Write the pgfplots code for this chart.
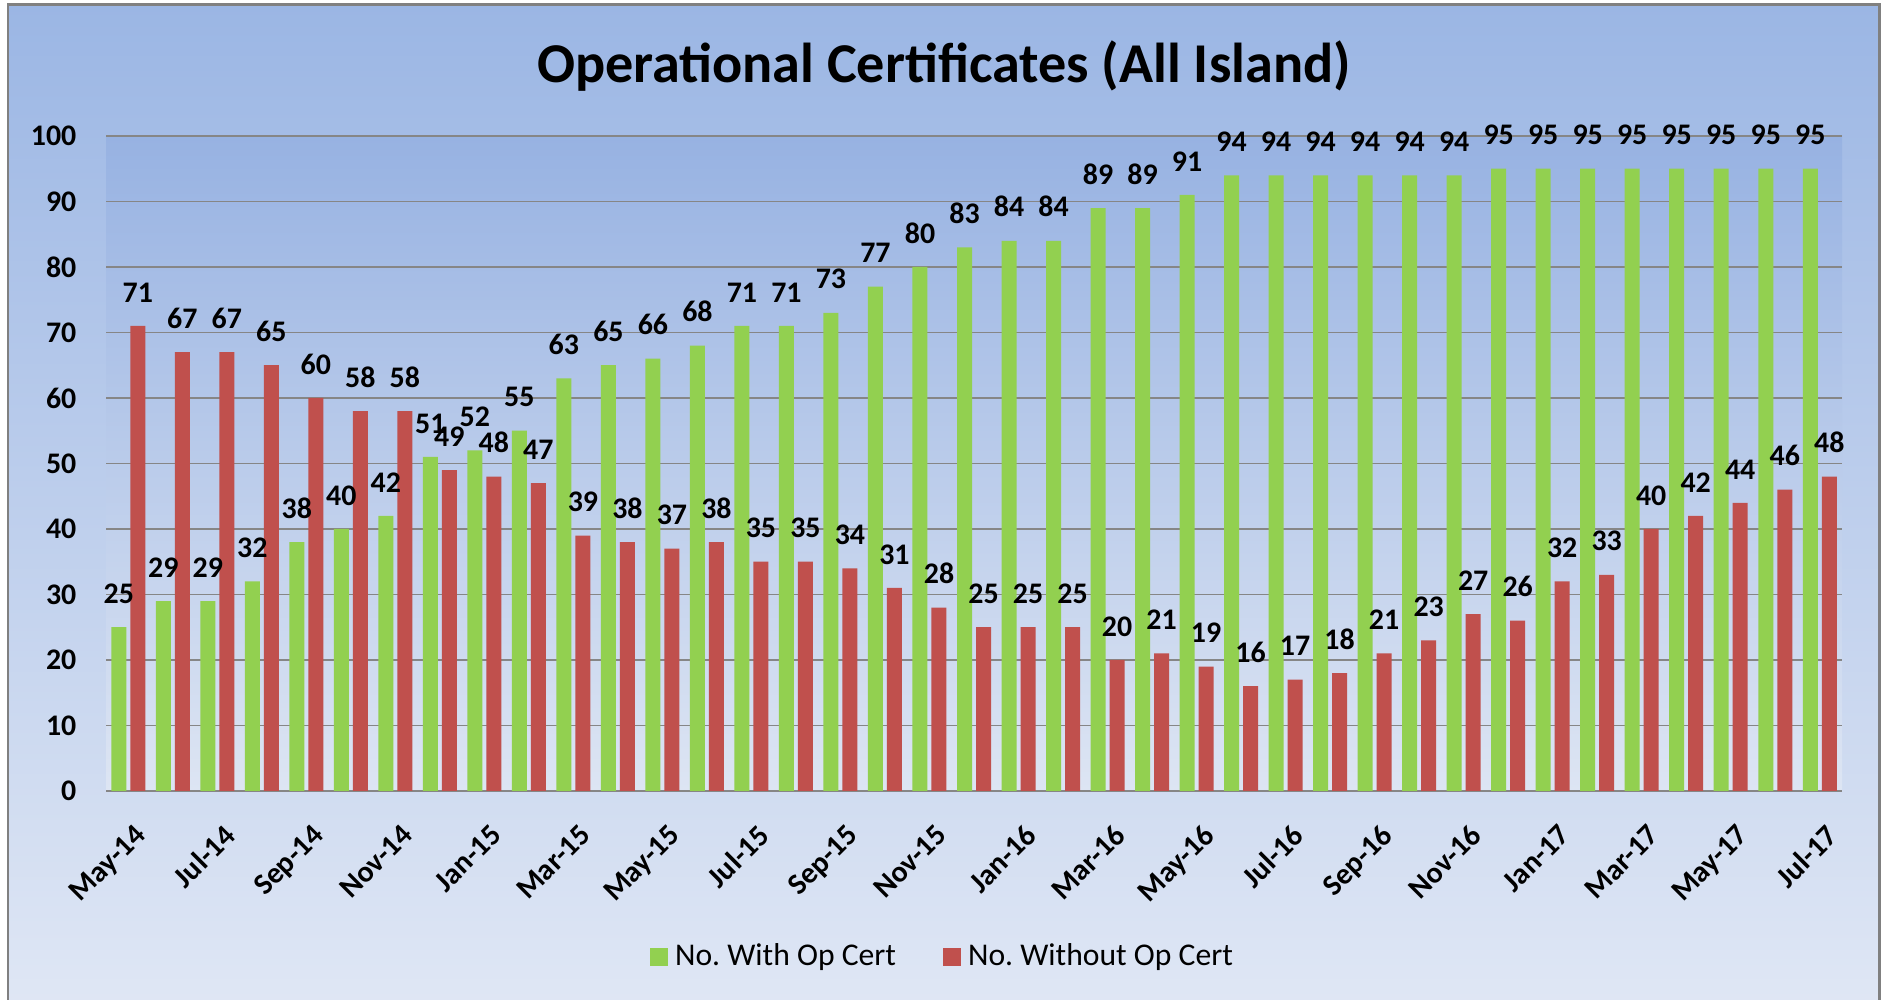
\documentclass[border=0pt]{standalone}
\usepackage{fontspec}
\setmainfont{Carlito}
\usepackage{pgfplots}
\pgfplotsset{compat=1.18}
\frenchspacing
\definecolor{cgreen}{RGB}{146,208,80}
\definecolor{cred}{RGB}{192,80,77}
\definecolor{bgtop}{RGB}{155,182,228}
\definecolor{bgbot}{RGB}{225,232,245}
\definecolor{patop}{RGB}{151,178,226}
\definecolor{pabot}{RGB}{221,229,243}
\definecolor{gridc}{RGB}{134,134,134}
\begin{document}
\begin{tikzpicture}
\useasboundingbox (0,0) rectangle (18.82,10);
\fill[white] (0,0) rectangle (18.82,10);
\shade[top color=bgtop, bottom color=bgbot] (0.08,-0.3) rectangle (18.79,9.955);
\draw[gray, line width=0.85pt] (0.08,-0.3) rectangle (18.79,9.955);
\node[font=\fontsize{16}{19}\selectfont\bfseries, anchor=base, inner sep=0pt] at (9.44,9.17) {Operational Certificates (All Island)};
\begin{axis}[
 at={(1.06cm,2.09cm)}, anchor=south west,
 scale only axis, width=17.36cm, height=6.55cm,
 xmin=-0.5, xmax=38.5, ymin=0, ymax=100,
 ybar, clip=false,
 axis background/.style={top color=patop, bottom color=pabot},
 ytick={0,10,...,100},
 xtick={0,2,...,38},
 xticklabels={May-14,Jul-14,Sep-14,Nov-14,Jan-15,Mar-15,May-15,Jul-15,Sep-15,Nov-15,Jan-16,Mar-16,May-16,Jul-16,Sep-16,Nov-16,Jan-17,Mar-17,May-17,Jul-17},
 /pgf/number format/assume math mode=true,
 major tick length=0pt,
 axis x line*=bottom, axis y line*=left,
 x axis line style={draw=gridc, line width=0.5pt, -},
 y axis line style={draw=none},
 ymajorgrids, grid style={draw=gridc, line width=0.45pt},
 ticklabel style={font=\fontsize{8.5}{10}\selectfont\bfseries},
 yticklabel style={anchor=east, inner sep=0pt, xshift=-0.29cm},
 xticklabel style={yshift=-0.31cm, xshift=0.05cm, rotate=45, anchor=north east, inner sep=0pt},
 every node near coord/.append style={font=\fontsize{8.5}{10}\selectfont\bfseries, anchor=south, inner sep=0pt, yshift=0.23cm},
 legend style={at={(0.4833,-0.253)}, anchor=center, draw=none, fill=none, legend columns=2,
   font=\fontsize{9}{11}\selectfont, /tikz/every even column/.append style={column sep=0.4cm}},
]
\addplot[fill=cgreen, draw=none, bar width=0.15cm, bar shift=-0.095cm, nodes near coords,
  legend image code/.code={\fill[cgreen] (0cm,-0.09cm) rectangle (0.18cm,0.09cm);}]
 coordinates {(0,25)(1,29)(2,29)(3,32)(4,38)(5,40)(6,42)(7,51)(8,52)(9,55)(10,63)(11,65)(12,66)(13,68)(14,71)(15,71)(16,73)(17,77)(18,80)(19,83)(20,84)(21,84)(22,89)(23,89)(24,91)(25,94)(26,94)(27,94)(28,94)(29,94)(30,94)(31,95)(32,95)(33,95)(34,95)(35,95)(36,95)(37,95)(38,95)};
\addlegendentry{No. With Op Cert}
\addplot[fill=cred, draw=none, bar width=0.15cm, bar shift=0.095cm, nodes near coords,
  legend image code/.code={\fill[cred] (0cm,-0.09cm) rectangle (0.18cm,0.09cm);}]
 coordinates {(0,71)(1,67)(2,67)(3,65)(4,60)(5,58)(6,58)(7,49)(8,48)(9,47)(10,39)(11,38)(12,37)(13,38)(14,35)(15,35)(16,34)(17,31)(18,28)(19,25)(20,25)(21,25)(22,20)(23,21)(24,19)(25,16)(26,17)(27,18)(28,21)(29,23)(30,27)(31,26)(32,32)(33,33)(34,40)(35,42)(36,44)(37,46)(38,48)};
\addlegendentry{No. Without Op Cert}
\end{axis}
\end{tikzpicture}
\end{document}
